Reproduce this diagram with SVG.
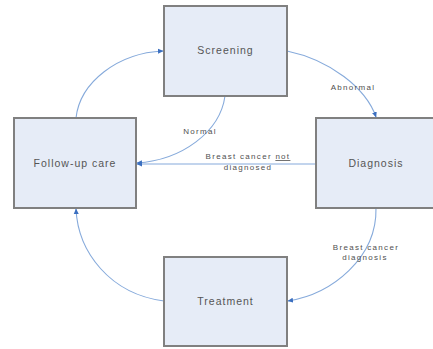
<svg xmlns="http://www.w3.org/2000/svg" width="433" height="349" viewBox="0 0 433 349">
<defs>
<style>
.box{fill:#e6ecf7;stroke:#808080;stroke-width:2}
.lbl{font-family:"Liberation Sans",Arial,sans-serif;font-size:10.5px;fill:#555555;letter-spacing:1px;text-anchor:middle}
.edge{fill:none;stroke:#86aadb;stroke-width:1.1}
.elbl{font-family:"Liberation Sans",Arial,sans-serif;font-size:8px;fill:#505050;letter-spacing:1.3px;text-anchor:middle}
</style>
<marker id="ah" markerWidth="6" markerHeight="6" refX="5" refY="3" orient="auto" markerUnits="userSpaceOnUse">
<path d="M0,0.5 L5.5,3 L0,5.5 z" fill="#3b6fc0"/>
</marker>
</defs>
<rect width="433" height="349" fill="#ffffff"/>
<g id="connectors">
<path class="edge" d="M76,118 C80,82 118,53 163,51" marker-end="url(#ah)"/>
<path class="edge" d="M287,51 C330,60 366,88 376,117" marker-end="url(#ah)"/>
<path class="edge" d="M225,96 C220,132 182,160 137,163" marker-end="url(#ah)"/>
<path class="edge" d="M316,164 L137,164" marker-end="url(#ah)"/>
<path class="edge" d="M376,208 C377,258 332,294 288,301" marker-end="url(#ah)"/>
<path class="edge" d="M164,301 C110,294 78,252 76,209" marker-end="url(#ah)"/>
<text class="elbl" x="353" y="90">Abnormal</text>
<text class="elbl" x="200" y="134">Normal</text>
<text class="elbl" x="248" y="159">Breast cancer <tspan text-decoration="underline">not</tspan></text>
<text class="elbl" x="248" y="170">diagnosed</text>
<text class="elbl" x="366" y="250">Breast cancer</text>
<text class="elbl" x="365" y="260">diagnosis</text>
</g>
<g id="screening">
<rect class="box" x="164" y="6" width="123" height="90"/>
<text class="lbl" x="225.5" y="54">Screening</text>
</g>
<g id="followup">
<rect class="box" x="14" y="118" width="122" height="90"/>
<text class="lbl" x="75" y="167">Follow-up care</text>
</g>
<g id="diagnosis">
<rect class="box" x="316" y="118" width="123" height="90"/>
<text class="lbl" x="376" y="167">Diagnosis</text>
</g>
<g id="treatment">
<rect class="box" x="164" y="257" width="123" height="89"/>
<text class="lbl" x="225.5" y="305">Treatment</text>
</g>
</svg>
